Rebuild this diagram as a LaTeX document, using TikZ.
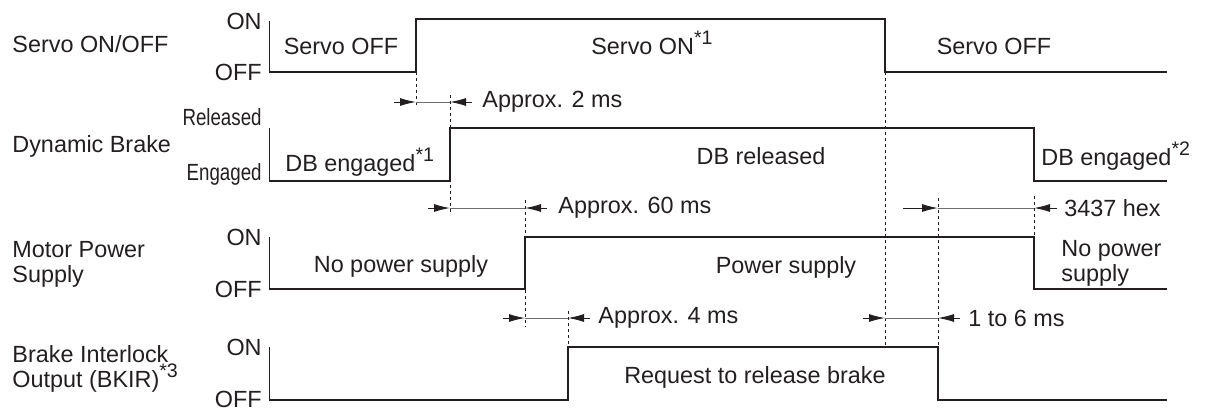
\documentclass[tikz,border=0pt]{standalone}
\usepackage{fontspec}
\setmainfont{Liberation Sans}
\usepackage{graphicx}
\usetikzlibrary{arrows.meta}
\definecolor{ink}{HTML}{231F20}
\definecolor{dimgray}{HTML}{6D6E71}
\newcommand{\sqz}[1]{\scalebox{0.8}[1]{#1}}
\newcommand{\fnmark}[1]{\raisebox{5pt}{\fontsize{9.8}{10}\selectfont#1}}

\begin{document}
\begin{tikzpicture}[
    x=0.5pt, y=-0.5pt,
    sig/.style={ink, line width=1pt, line join=miter},
    axis/.style={ink, line width=0.5pt},
    guide/.style={ink, line width=0.5pt, dash pattern=on 1.5pt off 1.5pt},
    dim/.style={dimgray, line width=0.5pt},
    dimtip/.style={ink, line width=0.5pt, -{Latex[length=8pt, width=4pt]}},
    txt/.style={ink, inner sep=0pt, font=\fontsize{11.7}{12.6}\selectfont},
    lvl/.style={txt, anchor=east}
]
    \useasboundingbox (0,0) rectangle (1206,409);

    % Signal names
    \node[txt, anchor=base west] (servo) at (12,52) {Servo ON/OFF};
    \node[txt, anchor=base west] (dynbrake) at (12,152) {Dynamic Brake};
    \node[txt, anchor=west, align=left] (motor) at (12,264) {Motor Power\\Supply};
    \node[txt, anchor=west, align=left] (bkir) at (12,369)
          {Brake Interlock\\Output (BKIR)\fnmark{*3}};

    % Levels
    \node[lvl] (on1) at (262,21) {ON};
    \node[lvl] (off1) at (262,72) {OFF};
    \node[lvl] (rel2) at (262,117) {\sqz{Released}};
    \node[lvl] (eng2) at (262,174) {\sqz{Engaged}};
    \node[lvl] (on3) at (262,237) {ON};
    \node[lvl] (off3) at (262,289) {OFF};
    \node[lvl] (on4) at (262,347) {ON};
    \node[lvl] (off4) at (262,399) {OFF};

    \draw[axis] (269,21) -- (269,72);
    \draw[axis] (269,128) -- (269,181);
    \draw[axis] (269,237) -- (269,289);
    \draw[axis] (269,347) -- (269,400);

    % Waveforms
    \draw[sig] (269,72) -- (416,72) -- (416,19) -- (885,19) -- (885,72) -- (1167,72);
    \draw[sig] (269,181) -- (450,181) -- (450,128) -- (1034,128) -- (1034,181) -- (1167,181);
    \draw[sig] (269,289) -- (525,289) -- (525,237) -- (1034,237) -- (1034,289) -- (1167,289);
    \draw[sig] (269,400) -- (568,400) -- (568,347) -- (938,347) -- (938,400) -- (1167,400);

    % Guides
    \foreach \x/\ya/\yb in {416/72/108, 450/95/213, 525/200/327, 568/311/347,
                            885/72/347, 938/198/347, 1034/196/237}
        \draw[guide] (\x,\ya) -- (\x,\yb);

    % States
    \node[txt, anchor=base] (soff1) at (341,54) {Servo OFF};
    \node[txt, anchor=base] (son) at (652,54) {Servo ON\fnmark{*1}};
    \node[txt, anchor=base] (soff2) at (994,54) {Servo OFF};
    \node[txt, anchor=base west] (dbeng1) at (285,171) {DB engaged\fnmark{*1}};
    \node[txt, anchor=base] (dbrel) at (761,164) {DB released};
    \node[txt, anchor=base west] (dbeng2) at (1041,165) {DB engaged\fnmark{*2}};
    \node[txt, anchor=base] (nops1) at (401,272) {No power supply};
    \node[txt, anchor=base] (ps) at (786,273) {Power supply};
    \node[txt, anchor=west, align=left] (nops2) at (1061,263) {No power\\supply};
    \node[txt, anchor=base] (req) at (755,383) {Request to release brake};

    % Delays
    \draw[dimtip] (394,102) -- (416,102);
    \draw[dim] (416,102) -- (450,102);
    \draw[dimtip] (472,102) -- (450,102);
    \node[txt, anchor=west] (t2ms) at (482,102) {Approx. 2 ms};

    \draw[dimtip] (428,208) -- (450,208);
    \draw[dim] (450,208) -- (525,208);
    \draw[dimtip] (547,208) -- (525,208);
    \node[txt, anchor=west] (t60ms) at (558,208) {Approx. 60 ms};

    \draw[dimtip] (903,208) -- (938,208);
    \draw[dim] (938,208) -- (1034,208);
    \draw[dimtip] (1057,208) -- (1034,208);
    \node[txt, anchor=west] (thex) at (1064,208) {3437 hex};

    \draw[dimtip] (503,318) -- (525,318);
    \draw[dim] (525,318) -- (568,318);
    \draw[dimtip] (590,318) -- (568,318);
    \node[txt, anchor=west] (t4ms) at (598,318) {Approx. 4 ms};

    \draw[dimtip] (863,318) -- (885,318);
    \draw[dim] (885,318) -- (938,318);
    \draw[dimtip] (960,318) -- (938,318);
    \node[txt, anchor=west] (t16ms) at (968,318) {1 to 6 ms};
\end{tikzpicture}
\end{document}
